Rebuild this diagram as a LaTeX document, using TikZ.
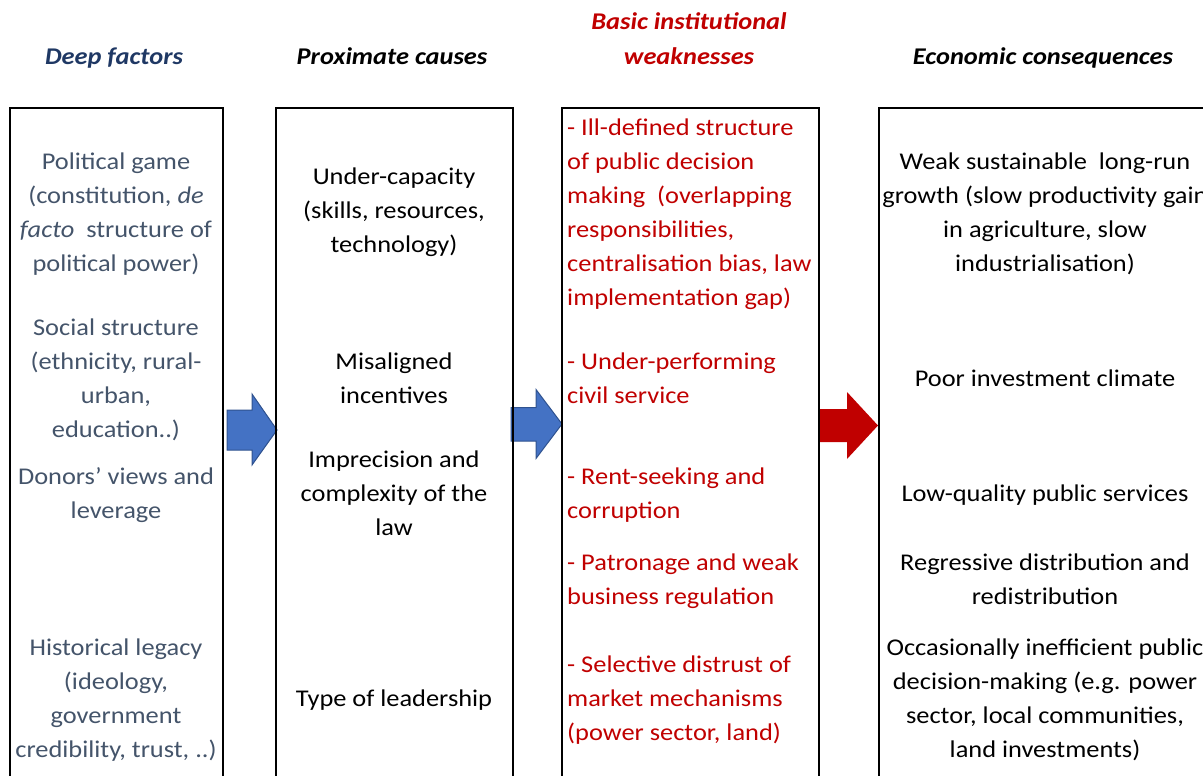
\documentclass[tikz,border=0pt]{standalone}
\usepackage{fontspec}
\setmainfont{Carlito}[FakeStretch=1.1]
\definecolor{deepblue}{HTML}{1F3864}
\definecolor{slate}{HTML}{44546A}
\definecolor{darkred}{HTML}{C00000}
\definecolor{arrowblue}{HTML}{4472C4}
\definecolor{arrowedge}{HTML}{2F528F}
\begin{document}
\begin{tikzpicture}[x=1pt,y=-1pt,
  frame/.style={draw=black, line width=2.2pt, inner sep=0pt, outer sep=0pt,
    anchor=north west, minimum height=720pt},
  % blocks are placed at the baseline of their last line
  body/.style={inner sep=0pt, anchor=base, align=center,
    font=\fontsize{24}{34}\selectfont},
  bodyleft/.style={body, anchor=base west, align=left},
  heading/.style={inner sep=0pt, anchor=base, align=center,
    font=\fontsize{24}{35}\selectfont\bfseries\itshape},
  bluearrow/.style={fill=arrowblue, draw=arrowedge, line width=1pt, line join=miter},
  redarrow/.style={fill=darkred, draw=none}
]
\useasboundingbox (0,0) rectangle (1203,776);
\clip (0,0) rectangle (1203,776);

% column headings
\node[heading, text=deepblue] (hDeep) at (114,65) {Deep factors};
\node[heading] (hProx) at (392,65) {Proximate causes};
\node[heading, text=darkred] (hBasic) at (689,65) {Basic institutional\\weaknesses};
\node[heading] (hEcon) at (1043,65) {Economic consequences};

% block arrows between the columns (drawn first, frames sit on top)
\path[bluearrow] (227,410) -- (252,410) -- (252,394) -- (277,430)
  -- (252,465) -- (252,450) -- (227,450) -- cycle;
\path[bluearrow] (511,407.5) -- (536,407.5) -- (536,389.5) -- (562,424)
  -- (536,458.5) -- (536,441) -- (511,441) -- cycle;
\path[redarrow] (818,409) -- (847,409) -- (847,392) -- (878,425.5)
  -- (847,459) -- (847,442) -- (818,442) -- cycle;

% column frames
\node[frame, minimum width=213pt] (deep) at (10,108) {};
\node[frame, minimum width=237pt] (prox) at (276,108) {};
\node[frame, minimum width=257pt] (basic) at (562,108) {};
\node[frame, minimum width=360pt] (econ) at (879,108) {};

% deep factors
\begin{scope}[every node/.append style={text=slate}]
\node[body] (d1) at (116,271) {Political game\\(constitution, \textit{de}\\\textit{facto}~ structure of\\political power)};
\node[body] (d2) at (116,437) {Social structure\\(ethnicity, rural-\\urban,\\education..)};
\node[body] (d3) at (116,518) {Donors' views and\\leverage};
\node[body] (d4) at (116,757) {Historical legacy\\(ideology,\\government\\credibility, trust, ..)};
\end{scope}

% proximate causes
\node[body] (p1) at (394,252) {Under-capacity\\(skills, resources,\\technology)};
\node[body] (p2) at (394,403) {Misaligned\\incentives};
\node[body] (p3) at (394,535) {Imprecision and\\complexity of the\\law};
\node[body] (p4) at (394,706) {Type of leadership};

% basic institutional weaknesses
\begin{scope}[every node/.append style={text=darkred}]
\node[bodyleft] (b1) at (567,305) {- Ill-defined structure\\of public decision\\making~ (overlapping\\responsibilities,\\centralisation bias, law\\implementation gap)};
\node[bodyleft] (b2) at (567,403) {- Under-performing\\civil service};
\node[bodyleft] (b3) at (567,518) {- Rent-seeking and\\corruption};
\node[bodyleft] (b4) at (567,604) {- Patronage and weak\\business regulation};
\node[bodyleft] (b5) at (567,740) {- Selective distrust of\\market mechanisms\\(power sector, land)};
\end{scope}

% economic consequences
\node[body] (e1) at (1045,271) {Weak sustainable~ long-run\\growth (slow productivity gain\\in agriculture, slow\\industrialisation)};
\node[body] (e2) at (1045,386) {Poor investment climate};
\node[body] (e3) at (1045,501) {Low-quality public services};
\node[body] (e4) at (1045,604) {Regressive distribution and\\redistribution};
\node[body] (e5) at (1045,757) {Occasionally inefficient public\\decision-making (e.g. power\\sector, local communities,\\land investments)};
\end{tikzpicture}
\end{document}
